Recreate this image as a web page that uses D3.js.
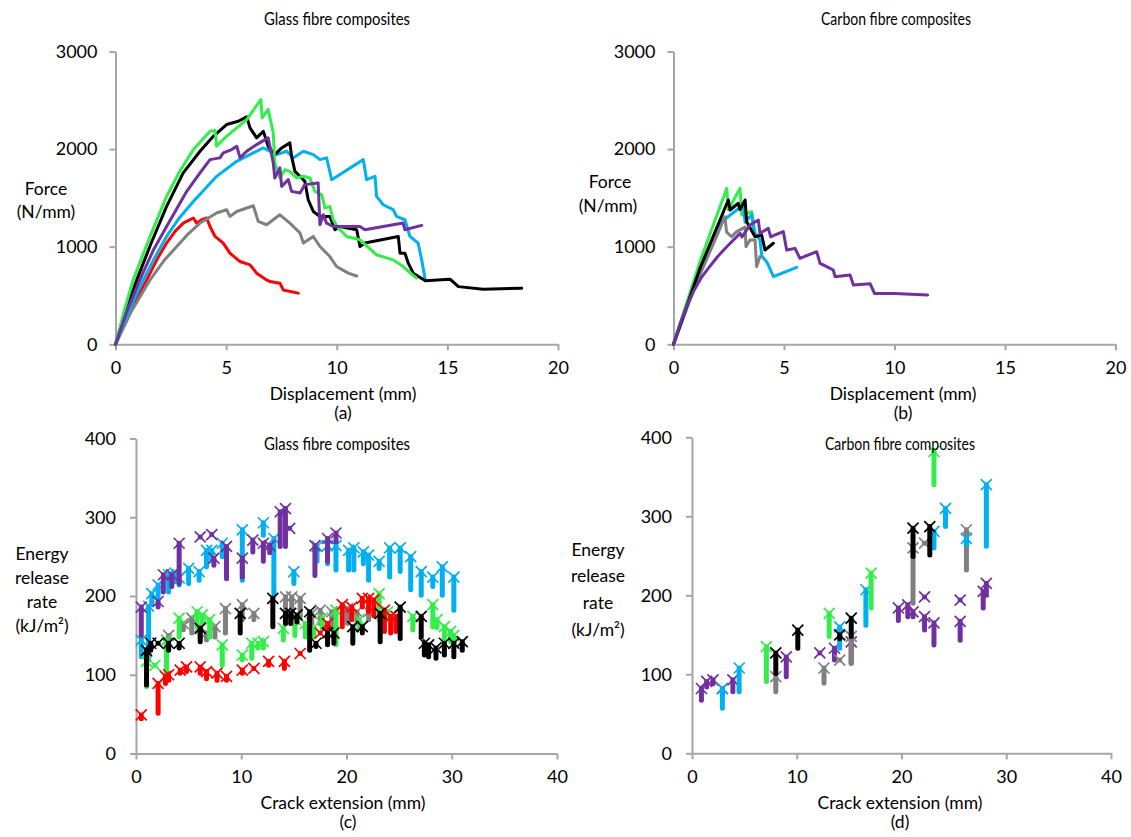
<!DOCTYPE html>
<html>
<head>
<meta charset="utf-8">
<script src="https://cdn.jsdelivr.net/npm/d3@7"></script>
<style>
  body { margin: 0; background: #fff; }
  svg { display: block; font-family: Lato, "Open Sans", sans-serif; }
  .axis path, .axis line { stroke: #A6A6A6; stroke-width: 2; }
  .axis text { font-size: 18px; fill: #000; }
  .title { font-size: 17px; fill: #000; }
  .label { font-size: 17.5px; fill: #000; }
</style>
</head>
<body>
<svg id="chart" width="1131" height="837"></svg>
<script>
// ---------- colours ----------
const GREEN = "#33EE4A", BLACK = "#000000", PURPLE = "#7030A0",
      BLUE = "#00B0F0", GREY = "#808080", RED = "#FF0000";

// ---------- tick values ----------
const forceTicks = [0, 1000, 2000, 3000];
const dispTicks = [0, 5, 10, 15, 20];
const energyTicks = [0, 100, 200, 300, 400];
const crackTicks = [0, 10, 20, 30, 40];

// ---------- (a) glass fibre: force [N/mm] vs displacement [mm] ----------
const glassGreen = [[0,0],[0.4,350],[0.8,660],[1.56,1104],[2.31,1515],[2.91,1776],[3.52,1995],[4.27,2183],[4.5,2190],[4.57,2029],[5.02,2131],[5.93,2302],[6.57,2508],[6.63,2320],[6.9,2408],[7.13,2166],[7.2,1858],[7.43,1704],[7.66,1790],[7.88,1772],[8.19,1704],[8.49,1721],[8.79,1704],[9.01,1567],[9.32,1533],[9.47,1396],[9.69,1413],[9.84,1276],[10.07,1191],[10.45,1105],[11.05,1071],[11.8,917],[12.55,865],[13.0,797],[13.6,678]];
const glassBlack = [[0,0],[0.5,370],[0.96,660],[1.6,1030],[2.31,1413],[3.06,1756],[3.82,1978],[4.42,2131],[5.02,2252],[5.55,2285],[5.93,2330],[6.08,2218],[6.23,2166],[6.38,2115],[6.68,2183],[6.83,2080],[6.9,2029],[7.2,1943],[7.51,2012],[7.88,2064],[7.96,1926],[8.11,1772],[8.34,1721],[8.56,1669],[8.71,1481],[8.94,1361],[9.24,1310],[9.69,1310],[9.92,1173],[10.14,1207],[10.9,1173],[11.05,1002],[11.27,1037],[12.78,1105],[12.86,934],[13.08,934],[13.23,832],[13.46,729],[14.0,650],[15.12,667],[15.5,591],[16.62,565],[18.36,575]];
const glassPurple = [[0,0],[0.5,330],[1.1,660],[1.7,960],[2.31,1207],[3.22,1567],[3.82,1756],[4.27,1892],[4.72,1910],[4.87,1961],[5.25,1995],[5.48,2029],[5.63,1910],[5.93,1978],[6.38,2046],[6.9,2115],[6.98,2029],[7.13,1858],[7.2,1704],[7.43,1807],[7.51,1618],[7.81,1687],[7.96,1567],[8.34,1550],[8.56,1636],[9.16,1653],[9.24,1225],[9.39,1327],[9.54,1242],[9.84,1207],[11.05,1207],[11.27,1173],[13.0,1242],[13.08,1173],[13.84,1218]];
const glassBlue = [[0,0],[0.6,345],[1.26,660],[1.8,900],[2.31,1105],[2.9,1300],[3.52,1464],[4.57,1721],[5.48,1875],[6.23,1961],[6.68,2012],[7.28,1943],[7.74,1978],[8.03,1910],[8.49,1978],[8.94,1943],[9.24,1892],[9.54,1910],[9.77,1687],[11.2,1892],[11.35,1687],[11.73,1721],[11.8,1515],[12.1,1430],[12.55,1379],[12.7,1310],[13.08,1276],[13.31,1105],[13.68,1037],[13.84,865],[14.0,660]];
const glassGrey = [[0,0],[0.7,330],[1.56,660],[2.2,860],[2.77,1002],[3.3,1135],[3.82,1242],[4.57,1345],[5.02,1379],[5.17,1310],[5.48,1361],[6.23,1420],[6.45,1259],[6.83,1225],[7.43,1327],[7.88,1242],[8.34,1140],[8.49,1037],[8.94,1105],[9.24,1002],[9.69,899],[9.99,797],[10.52,729],[10.9,700]];
const glassRed = [[0,0],[0.7,365],[1.41,660],[1.9,880],[2.31,1037],[2.7,1160],[3.06,1242],[3.52,1294],[3.67,1242],[3.9,1276],[4.12,1294],[4.27,1207],[4.5,1105],[4.87,1037],[5.17,934],[5.63,848],[6.08,814],[6.38,729],[6.83,660],[6.98,643],[7.43,626],[7.58,557],[8.26,524]];

// ---------- (b) carbon fibre: force [N/mm] vs displacement [mm] ----------
const carbonGreen = [[0,0],[1.2,850],[2.41,1598],[2.48,1376],[3.01,1598],[3.09,1325],[3.54,1359],[3.69,1150]];
const carbonBlue = [[0,0],[1.0,620],[2.03,1154],[2.18,1256],[2.6,1330],[3.16,1427],[3.24,1250],[3.54,1330],[3.65,1150],[3.91,1069],[4.0,900],[4.22,846],[4.52,693],[5.57,789]];
const carbonGrey = [[0,0],[1.0,610],[2.33,1307],[2.4,1150],[2.63,1102],[2.86,1154],[3.24,1200],[3.28,1000],[3.46,1069],[3.69,1069],[3.76,795],[3.91,898]];
const carbonBlack = [[0,0],[1.2,780],[2.48,1479],[2.56,1376],[2.93,1445],[3.01,1380],[3.24,1479],[3.31,1256],[3.69,1102],[3.99,1120],[4.14,966],[4.52,1035]];
const carbonPurple = [[0,0],[0.3,210],[0.6,390],[0.9,540],[1.25,680],[1.65,800],[2.0,900],[2.41,1000],[3.01,1137],[3.1,1100],[3.46,1222],[3.84,1273],[3.91,1137],[4.29,1188],[4.4,1100],[4.59,1120],[4.97,1154],[5.12,966],[5.5,983],[5.72,881],[6.48,949],[6.63,830],[6.93,795],[7.23,761],[7.31,693],[7.99,710],[8.14,608],[8.9,620],[9.1,520],[10.0,520],[11.5,505]];

// ---------- (c) glass fibre: energy release rate [kJ/m²], [crack ext, highest, lowest] ----------
const glassBlueG = [[0.5,144,123],[1.2,187,119],[1.5,203,189],[2.1,214,199],[3.1,227,205],[3.7,229,218],[4.1,223,214],[5.0,235,216],[6.0,231,220],[6.7,258,237],[7.2,258,246],[8.2,267,250],[10.1,284,220],[12.1,293,277],[13.1,273,201],[15.0,231,216],[17.2,263,244],[18.2,264,241],[19.0,264,233],[20.2,258,233],[20.7,261,233],[21.6,256,241],[22.1,252,220],[23.1,244,235],[24.1,261,224],[25.1,261,231],[26.1,250,208],[27.1,231,201],[28.2,224,212],[29.1,237,201],[30.2,224,182]];
const glassPurpleG = [[0.5,186,150],[2.1,193,186],[2.6,227,205],[3.4,227,212],[4.1,267,216],[6.1,275,275],[7.2,278,278],[7.4,248,239],[8.6,263,222],[10.1,248,224],[11.1,271,256],[12.1,267,244],[12.7,264,255],[13.7,307,263],[14.2,311,263],[14.6,286,286],[17.0,264,226],[18.2,273,244],[19.0,280,269]];
const glassGreyG = [[3.1,150,144],[4.5,165,157],[5.3,172,153],[6.1,161,148],[6.7,153,144],[7.5,161,148],[8.5,184,153],[10.1,189,170],[11.2,178,170],[14.2,199,178],[14.8,199,172],[15.6,197,174],[16.7,178,165],[17.5,182,165],[18.6,180,159],[20.1,184,165],[21.0,180,165],[22.1,180,170]];
const glassGreenG = [[1.0,117,85],[1.8,112,112],[2.9,144,102],[4.1,172,148],[5.8,180,161],[6.3,176,165],[7.0,170,148],[8.2,138,112],[10.1,125,119],[11.0,140,121],[11.6,140,134],[12.1,142,134],[14.0,159,144],[15.1,170,150],[16.1,165,148],[16.9,160,148],[17.7,172,159],[19.0,182,138],[21.2,170,159],[23.1,203,170],[23.9,180,170],[26.3,174,157],[28.2,189,161],[28.6,170,160],[29.3,161,146],[29.9,155,142],[30.2,150,140]];
const glassRedG = [[0.5,49,44],[2.1,89,51],[2.8,98,89],[3.1,100,93],[4.2,106,102],[4.8,110,104],[6.1,110,102],[6.7,104,95],[7.7,102,93],[8.6,98,93],[10.1,106,102],[11.2,108,108],[12.6,117,112],[14.1,117,108],[15.6,127,127],[17.5,153,153],[18.2,165,157],[19.6,189,161],[20.5,186,170],[21.5,197,186],[22.1,197,180],[22.6,195,175],[23.6,182,155],[24.2,174,153],[24.7,174,155]];
const glassBlackG = [[1.0,131,87],[1.4,140,131],[2.1,140,140],[3.1,140,131],[4.1,140,134],[6.1,159,142],[9.9,178,153],[13.0,197,161],[14.2,178,165],[14.7,178,165],[15.3,176,167],[16.5,180,131],[17.1,140,136],[18.2,153,138],[18.8,153,140],[20.6,161,140],[21.5,161,153],[23.2,178,142],[25.1,186,146],[27.1,174,148],[27.4,140,125],[27.8,138,123],[28.5,134,121],[29.3,140,125],[30.2,140,123],[31.0,142,131]];

// ---------- (d) carbon fibre: energy release rate [kJ/m²], [crack ext, highest, lowest] ----------
const carbonPurpleG = [[0.9,82,67],[1.4,91,84],[2.0,93,88],[2.9,82,75],[3.9,93,78],[9.0,122,97],[12.2,127,127],[13.6,133,118],[15.2,141,114],[19.7,184,168],[20.6,188,173],[21.1,179,173],[22.2,198,198],[22.2,173,156],[23.1,165,137],[25.6,194,194],[25.6,167,143],[27.8,205,184],[28.1,215,200]];
const carbonGreyG = [[8.0,97,78],[12.6,108,89],[14.1,118,118],[15.2,148,114],[21.1,260,190],[22.2,266,266],[26.2,283,232]];
const carbonBlueG = [[2.9,82,57],[4.5,108,78],[14.1,160,133],[16.6,207,162],[23.1,281,260],[24.2,310,287],[26.2,272,264],[28.1,340,262]];
const carbonGreenG = [[7.1,135,91],[13.1,177,148],[17.1,228,184],[23.1,382,340]];
const carbonBlackG = [[8.0,127,101],[10.1,156,133],[14.1,150,145],[15.2,171,148],[21.1,285,249],[22.7,287,251]];

const svg = d3.select("#chart");

function axes(g, x, y, xt, yt, yPad) {
  const ax = g.append("g").attr("class", "axis")
    .attr("transform", `translate(0,${y(0)})`)
    .call(d3.axisBottom(x).tickValues(xt).tickFormat(d3.format("d"))
      .tickSize(6).tickSizeOuter(0).tickPadding(11));
  const ay = g.append("g").attr("class", "axis")
    .attr("transform", `translate(${x(0)},0)`)
    .call(d3.axisLeft(y).tickValues(yt).tickFormat(d3.format("d"))
      .tickSize(6).tickSizeOuter(0).tickPadding(yPad));
  [ax, ay].forEach(a => a.attr("font-size", null).attr("font-family", null));
}

function text(str, cx, cy, cls, len) {
  const t = svg.append("text").attr("class", cls)
    .attr("x", cx).attr("y", cy)
    .attr("text-anchor", "middle")
    .attr("dominant-baseline", "central")
    .text(str);
  if (len) t.attr("textLength", len).attr("lengthAdjust", "spacingAndGlyphs");
}

function lines(g, x, y, series) {
  const gen = d3.line().x(d => x(d[0])).y(d => y(d[1]));
  series.forEach(([data, col]) => {
    g.append("path").datum(data)
      .attr("d", gen)
      .attr("fill", "none")
      .attr("stroke", col)
      .attr("stroke-width", 3)
      .attr("stroke-linejoin", "round")
      .attr("stroke-linecap", "round");
  });
}

function ranges(g, x, y, series) {
  series.forEach(([data, col]) => {
    const s = g.append("g");
    s.selectAll("line.bar").data(data).join("line")
      .attr("class", "bar")
      .attr("x1", d => x(d[0])).attr("x2", d => x(d[0]))
      .attr("y1", d => y(d[1])).attr("y2", d => y(d[2]))
      .attr("stroke", col).attr("stroke-width", 5)
      .attr("stroke-linecap", "round");
    s.selectAll("path.mark").data(data).join("path")
      .attr("class", "mark")
      .attr("transform", d => `translate(${x(d[0])},${y(d[1])})`)
      .attr("d", "M-5.5,-5.5L5.5,5.5M-5.5,5.5L5.5,-5.5")
      .attr("stroke", col).attr("stroke-width", 1.7)
      .attr("fill", "none");
  });
}

// ---------- panel (a) ----------
{
  const x = d3.scaleLinear().domain([0, 20]).range([115.5, 558]);
  const y = d3.scaleLinear().domain([0, 3000]).range([344.3, 51.5]);
  const g = svg.append("g");
  axes(g, x, y, dispTicks, forceTicks, 12);
  lines(g, x, y, [[glassRed, RED], [glassGrey, GREY], [glassBlue, BLUE],
                  [glassBlack, BLACK], [glassGreen, GREEN], [glassPurple, PURPLE]]);
  text("Glass fibre composites", 337, 18, "title", 146);
  text("Force", 46, 188, "label");
  text("(N/mm)", 46, 211, "label");
  text("Displacement (mm)", 343, 393, "label");
  text("(a)", 343, 412, "label");
}

// ---------- panel (b) ----------
{
  const x = d3.scaleLinear().domain([0, 20]).range([673.5, 1115.5]);
  const y = d3.scaleLinear().domain([0, 3000]).range([344.3, 51.5]);
  const g = svg.append("g");
  axes(g, x, y, dispTicks, forceTicks, 12);
  lines(g, x, y, [[carbonGreen, GREEN], [carbonBlue, BLUE], [carbonGrey, GREY],
                  [carbonBlack, BLACK], [carbonPurple, PURPLE]]);
  text("Carbon fibre composites", 896, 18, "title", 150);
  text("Force", 610, 181, "label");
  text("(N/mm)", 608, 205, "label");
  text("Displacement (mm)", 903, 393, "label");
  text("(b)", 903, 412, "label");
}

// ---------- panel (c) ----------
{
  const x = d3.scaleLinear().domain([0, 40]).range([136, 557]);
  const y = d3.scaleLinear().domain([0, 400]).range([753.5, 438.5]);
  const g = svg.append("g");
  axes(g, x, y, crackTicks, energyTicks, 14);
  ranges(g, x, y, [[glassBlueG, BLUE], [glassPurpleG, PURPLE], [glassGreyG, GREY],
                   [glassGreenG, GREEN], [glassRedG, RED], [glassBlackG, BLACK]]);
  text("Glass fibre composites", 337, 443, "title", 146);
  text("Energy", 42, 553, "label");
  text("release", 42, 577, "label");
  text("rate", 42, 601, "label");
  text("(kJ/m²)", 42, 625, "label");
  text("Crack extension (mm)", 343, 802, "label");
  text("(c)", 348, 821, "label");
}

// ---------- panel (d) ----------
{
  const x = d3.scaleLinear().domain([0, 40]).range([692, 1111]);
  const y = d3.scaleLinear().domain([0, 400]).range([753.3, 437.3]);
  const g = svg.append("g");
  axes(g, x, y, crackTicks, energyTicks, 14);
  ranges(g, x, y, [[carbonPurpleG, PURPLE], [carbonGreyG, GREY], [carbonBlueG, BLUE],
                   [carbonGreenG, GREEN], [carbonBlackG, BLACK]]);
  text("Carbon fibre composites", 900, 443, "title", 150);
  text("Energy", 598, 549, "label");
  text("release", 598, 575, "label");
  text("rate", 598, 602, "label");
  text("(kJ/m²)", 598, 629, "label");
  text("Crack extension (mm)", 900, 802, "label");
  text("(d)", 900, 821, "label");
}
</script>
</body>
</html>
